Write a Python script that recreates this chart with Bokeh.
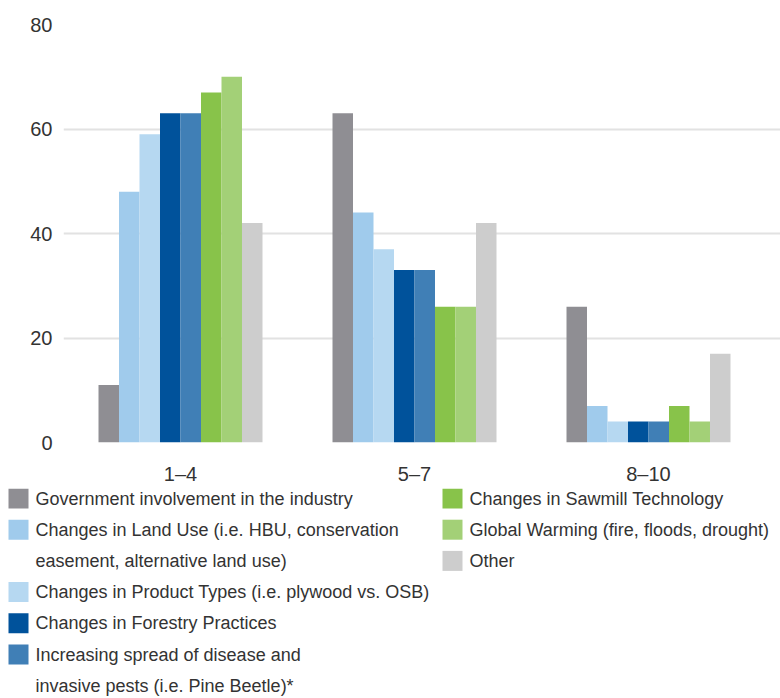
from bokeh.plotting import figure
from bokeh.models import ColumnDataSource, Range1d, FixedTicker
from bokeh.transform import dodge
from bokeh.layouts import column
from bokeh.embed import file_html
from bokeh.resources import INLINE
from bokeh.core.properties import value

# ---------------- data ----------------
categories = ["1–4", "5–7", "8–10"]

government = [11, 63, 26]
land_use = [48, 44, 7]
product_types = [59, 37, 4]
forestry = [63, 33, 4]
disease = [63, 33, 4]
sawmill = [67, 26, 7]
warming = [70, 26, 4]
other = [42, 42, 17]

series_values = [government, land_use, product_types, forestry,
                 disease, sawmill, warming, other]

series_labels = [
    ["Government involvement in the industry"],
    ["Changes in Land Use (i.e. HBU, conservation", "easement, alternative land use)"],
    ["Changes in Product Types (i.e. plywood vs. OSB)"],
    ["Changes in Forestry Practices"],
    ["Increasing spread of disease and", "invasive pests (i.e. Pine Beetle)*"],
    ["Changes in Sawmill Technology"],
    ["Global Warming (fire, floods, drought)"],
    ["Other"],
]

colors = ["#8f8e93", "#a0cbec", "#b6d8f1", "#00529b",
          "#407fb6", "#88c34a", "#a3d077", "#cdcdcd"]

y_ticks = [0, 20, 40, 60, 80]

# ---------------- chart ----------------
FONT = "Liberation Sans"
TEXT_COLOR = "#333333"
n_series = len(series_values)
bar_w = 0.0876
x_end = 717 / 234
CHART_H = 488

p = figure(output_backend="svg", toolbar_location=None,
           frame_width=717, frame_height=418,
           min_border_left=63, min_border_right=0,
           min_border_top=24, min_border_bottom=CHART_H - 24 - 418,
           x_range=Range1d(0, x_end), y_range=Range1d(0, 80),
           frame_align=False)
p.outline_line_color = None
p.background_fill_color = "white"
p.border_fill_color = "white"

centers = [i + 0.5 for i in range(len(categories))]
for j, (vals, col) in enumerate(zip(series_values, colors)):
    src = ColumnDataSource(dict(x=centers, top=vals))
    p.vbar(x=dodge("x", (j - (n_series - 1) / 2) * bar_w, range=p.x_range),
           top="top", bottom=0, width=bar_w, source=src,
           fill_color=col, line_color=None)

p.xgrid.grid_line_color = None
p.ygrid.grid_line_color = "#e2e2e2"
p.ygrid.grid_line_width = 2
p.ygrid.ticker = FixedTicker(ticks=y_ticks)

p.yaxis.ticker = FixedTicker(ticks=y_ticks)
p.yaxis.axis_line_color = None
p.yaxis.major_tick_line_color = None
p.yaxis.minor_tick_line_color = None
p.yaxis.major_tick_out = 0
p.yaxis.major_tick_in = 0
p.yaxis.major_label_text_font = FONT
p.yaxis.major_label_text_font_size = "20px"
p.yaxis.major_label_text_color = TEXT_COLOR
p.yaxis.major_label_standoff = 11

p.xaxis.ticker = FixedTicker(ticks=centers)
p.xaxis.major_label_overrides = {c: lab for c, lab in zip(centers, categories)}
p.xaxis.axis_line_color = None
p.xaxis.major_tick_line_color = None
p.xaxis.minor_tick_line_color = None
p.xaxis.major_tick_out = 0
p.xaxis.major_tick_in = 0
p.xaxis.major_label_text_font = FONT
p.xaxis.major_label_text_font_size = "20px"
p.xaxis.major_label_text_color = TEXT_COLOR
p.xaxis.major_label_standoff = 20

# ---------------- legend ----------------
leg = figure(output_backend="svg", toolbar_location=None,
             width=780, height=698 - CHART_H,
             x_axis_location=None, y_axis_location=None,
             x_range=Range1d(0, 780), y_range=Range1d(698, CHART_H),
             min_border=0, frame_align=False)
leg.outline_line_color = None
leg.grid.visible = False

line_h = 31.2
first_y = 498
columns = [(list(range(0, 5)), 8), (list(range(5, 8)), 442)]
sq_x, sq_y, sq_c = [], [], []
tx, ty, tt = [], [], []
for idxs, x0 in columns:
    line = 0
    for j in idxs:
        y = first_y + line * line_h
        sq_x.append(x0 + 10)
        sq_y.append(y)
        sq_c.append(colors[j])
        for k, txt in enumerate(series_labels[j]):
            tx.append(x0 + 27)
            ty.append(first_y + line * line_h)
            tt.append(txt)
            line += 1

leg.rect(x=sq_x, y=sq_y, width=20, height=20, fill_color=sq_c, line_color=None)
leg.text(x=tx, y=ty, text=tt, text_font=value(FONT), text_font_size="18px",
         text_color=TEXT_COLOR, text_baseline="middle", text_align="left")

layout = column(p, leg, spacing=0)

with open("out.html", "w") as f:
    f.write(file_html(layout, INLINE))
